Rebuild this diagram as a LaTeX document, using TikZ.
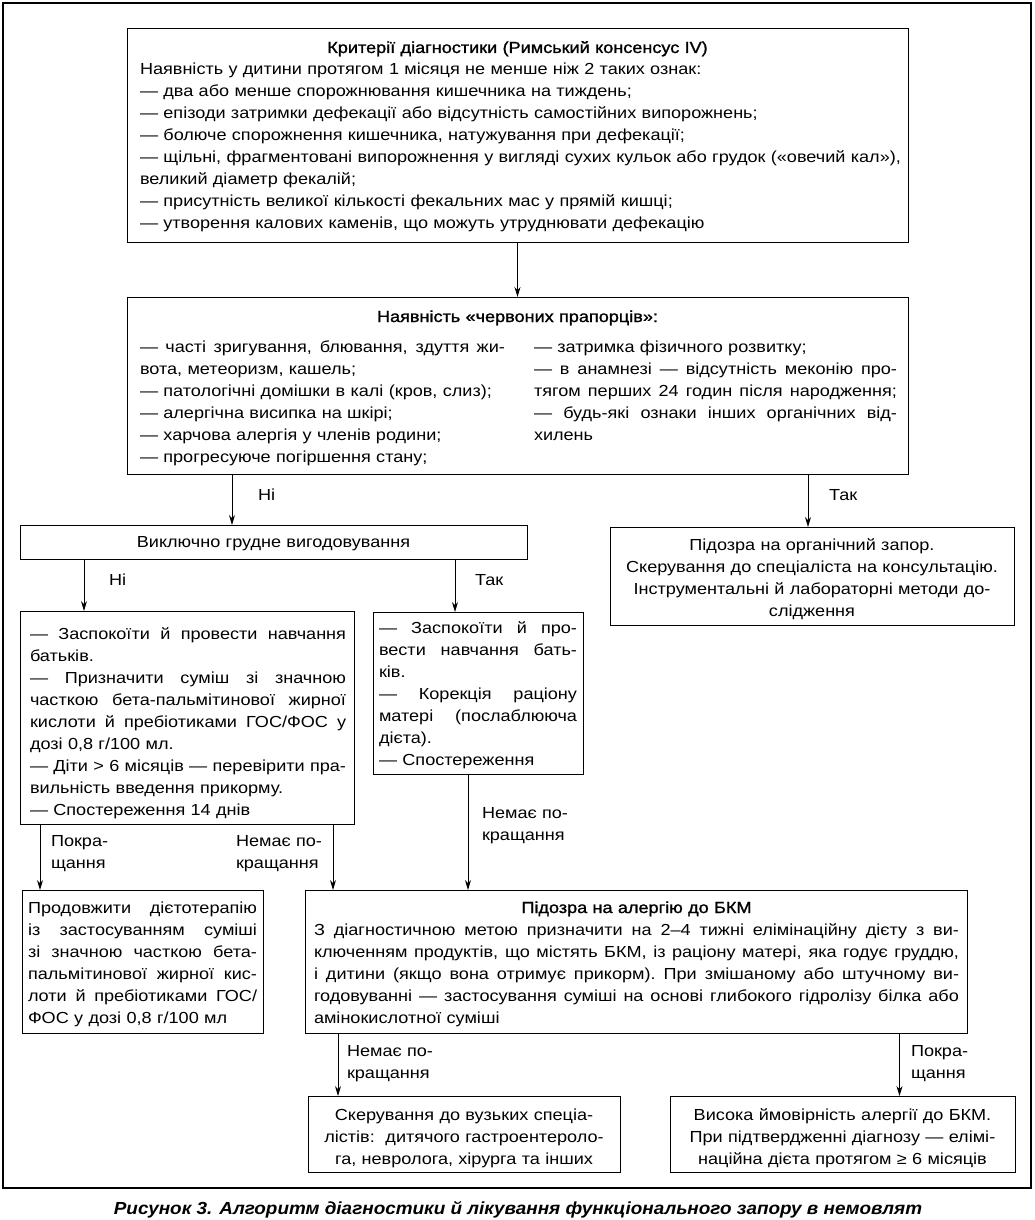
\documentclass[tikz,border=0pt]{standalone}
\usepackage{fontspec}
\setmainfont{Liberation Sans}[FakeStretch=1.13]
\newfontfamily\semib{Liberation Sans}[FakeStretch=1.13,FakeBold=1.3]
\newfontfamily\capfont{Liberation Sans}[FakeStretch=1.08]
\usetikzlibrary{arrows.meta}
\newcommand\jl[1]{\leavevmode\hbox to \hsize{\spaceskip=0.3em plus 1fil\xspaceskip=0.3em plus 1fil\relax #1}}
\newcommand\cl[1]{\leavevmode\hbox to \hsize{\hfil #1\hfil}}
\newcommand\nl[1]{\leavevmode\hbox{#1}}
\tikzset{
  boxnode/.style={draw, line width=0.9pt, inner sep=0pt, outer sep=0pt},
  txt/.style={inner sep=0pt, outer sep=0pt, anchor=base west, align=left, font=\fontsize{16}{22}\selectfont},
  ctxt/.style={inner sep=0pt, outer sep=0pt, anchor=base, align=center, font=\fontsize{16}{22}\selectfont},
  lbl/.style={inner sep=0pt, outer sep=0pt, anchor=base west, align=left, text width=100pt, font=\fontsize{16}{22}\selectfont},
  arr/.style={line width=0.9pt, -{Stealth[length=10pt,width=6pt]}}
}
\begin{document}
\begin{tikzpicture}[x=1pt,y=-1pt]
\useasboundingbox (0,0) rectangle (1034,1220);
% outer frame
\node[draw, line width=1.2pt, inner sep=0pt, minimum width=1028pt, minimum height=1185pt] (frame) at (517,595.5) {};
% boxes
\node[boxnode, minimum width=781pt, minimum height=214pt] (b1) at (517.5,135) {};
\node[boxnode, minimum width=781pt, minimum height=177pt] (b2) at (517.5,385.5) {};
\node[boxnode, minimum width=507pt, minimum height=34pt] (b3) at (273.5,542) {};
\node[boxnode, minimum width=404pt, minimum height=98pt] (org) at (812,576) {};
\node[boxnode, minimum width=334pt, minimum height=213pt] (b4) at (187.5,717.5) {};
\node[boxnode, minimum width=210pt, minimum height=162pt] (b5) at (478.5,693) {};
\node[boxnode, minimum width=241pt, minimum height=143pt] (b6) at (142.5,961.5) {};
\node[boxnode, minimum width=662pt, minimum height=143pt] (b7) at (636.5,961.5) {};
\node[boxnode, minimum width=312pt, minimum height=76pt] (b8) at (464,1134) {};
\node[boxnode, minimum width=345pt, minimum height=76pt] (b9) at (842.5,1134) {};

% texts
\node[txt, text width=755pt] (t1) at (140,53) {%
\cl{{\semib Критерії діагностики (Римський консенсус IV)}}\\
Наявність у дитини протягом 1 місяця не менше ніж 2 таких ознак:\\
— два або менше спорожнювання кишечника на тиждень;\\
— епізоди затримки дефекації або відсутність самостійних випорожнень;\\
— болюче спорожнення кишечника, натужування при дефекації;\\
\nl{— щільні, фрагментовані випорожнення у вигляді сухих кульок або грудок («овечий кал»),}\\
великий діаметр фекалій;\\
— присутність великої кількості фекальних мас у прямій кишці;\\
— утворення калових каменів, що можуть утруднювати дефекацію};

\node[ctxt, text width=755pt] (t2) at (517.5,322) {{\semib Наявність «червоних прапорців»:}};
\node[txt, text width=365pt] (t2l) at (140,352) {%
\jl{— часті зригування, блювання, здуття жи-}\\
вота, метеоризм, кашель;\\
— патологічні домішки в калі (кров, слиз);\\
— алергічна висипка на шкірі;\\
— харчова алергія у членів родини;\\
— прогресуюче погіршення стану;};
\node[txt, text width=363pt] (t2r) at (534,352) {%
— затримка фізичного розвитку;\\
\jl{— в анамнезі — відсутність меконію про-}\\
\jl{тягом перших 24 годин після народження;}\\
\jl{— будь-які ознаки інших органічних від-}\\
хилень};

\node[ctxt, text width=480pt] (t3) at (273.5,547) {Виключно грудне вигодовування};

\node[ctxt, text width=395pt] (torg) at (812,550) {Підозра на органічний запор.\\
Скерування до спеціаліста на консультацію.\\
Інструментальні й лабораторні методи до-\\
слідження};

\node[txt, text width=316pt] (t4) at (30,639) {%
\jl{— Заспокоїти й провести навчання}\\
батьків.\\
\jl{— Призначити суміш зі значною}\\
\jl{часткою бета-пальмітинової жирної}\\
\jl{кислоти й пребіотиками ГОС/ФОС у}\\
дозі 0,8 г/100 мл.\\
\jl{— Діти > 6 місяців — перевірити пра-}\\
вильність введення прикорму.\\
— Спостереження 14 днів};

\node[txt, text width=198pt] (t5) at (379,633) {%
\jl{— Заспокоїти й про-}\\
\jl{вести навчання бать-}\\
ків.\\
\jl{— Корекція раціону}\\
\jl{матері (послаблююча}\\
дієта).\\
— Спостереження};

\node[txt, text width=229pt] (t6) at (28,913) {%
\jl{Продовжити дієтотерапію}\\
\jl{із застосуванням суміші}\\
\jl{зі значною часткою бета-}\\
\jl{пальмітинової жирної кис-}\\
\jl{лоти й пребіотиками ГОС/}\\
ФОС у дозі 0,8 г/100 мл};

\node[txt, text width=645pt] (t7) at (314,913) {%
\cl{{\semib Підозра на алергію до БКМ}}\\
\jl{З діагностичною метою призначити на 2–4 тижні елімінаційну дієту з ви-}\\
\jl{ключенням продуктів, що містять БКМ, із раціону матері, яка годує груддю,}\\
\jl{і дитини (якщо вона отримує прикорм). При змішаному або штучному ви-}\\
\jl{годовуванні — застосування суміші на основі глибокого гідролізу білка або}\\
амінокислотної суміші};

\node[ctxt, text width=305pt] (t8) at (464,1120) {Скерування до вузьких спеціа-\\
лістів:\ \ дитячого гастроентероло-\\
га, невролога, хірурга та інших};

\node[ctxt, text width=340pt] (t9) at (842.5,1120) {Висока ймовірність алергії до БКМ.\\
При підтвердженні діагнозу — елімі-\\
наційна дієта протягом ≥ 6 місяців};

% caption
\node[inner sep=0pt, anchor=base, font=\fontsize{17.5}{20}\capfont\bfseries\itshape] (cap) at (518,1214) {Рисунок 3. Алгоритм діагностики й лікування функціонального запору в немовлят};

% connector x positions
\coordinate (xa) at (232,0);
\coordinate (xb) at (808,0);
\coordinate (xc) at (84,0);
\coordinate (xd) at (455,0);
\coordinate (xe) at (40,0);
\coordinate (xf) at (333,0);
\coordinate (xg) at (468,0);
\coordinate (xh) at (338,0);
\coordinate (xi) at (899.5,0);

\draw[arr] (b1.south) -- (b1.south |- b2.north);
\draw[arr] (xa |- b2.south) -- (xa |- b3.north);
\draw[arr] (xb |- b2.south) -- (xb |- org.north);
\draw[arr] (xc |- b3.south) -- (xc |- b4.north);
\draw[arr] (xd |- b3.south) -- (xd |- b5.north);
\draw[arr] (xe |- b4.south) -- (xe |- b6.north);
\draw[arr] (xf |- b4.south) -- (xf |- b7.north);
\draw[arr] (xg |- b5.south) -- (xg |- b7.north);
\draw[arr] (xh |- b7.south) -- (xh |- b8.north);
\draw[arr] (xi |- b7.south) -- (xi |- b9.north);

% labels
\node[lbl] (l1) at (258,500) {Ні};
\node[lbl] (l2) at (829,500) {Так};
\node[lbl] (l3) at (109,585) {Ні};
\node[lbl] (l4) at (475,585) {Так};
\node[lbl] (l5) at (51,846) {Покра-\\щання};
\node[lbl] (l6) at (236,846) {Немає по-\\кращання};
\node[lbl] (l7) at (482,818) {Немає по-\\кращання};
\node[lbl] (l8) at (347,1056) {Немає по-\\кращання};
\node[lbl] (l9) at (911,1056) {Покра-\\щання};
\end{tikzpicture}
\end{document}
